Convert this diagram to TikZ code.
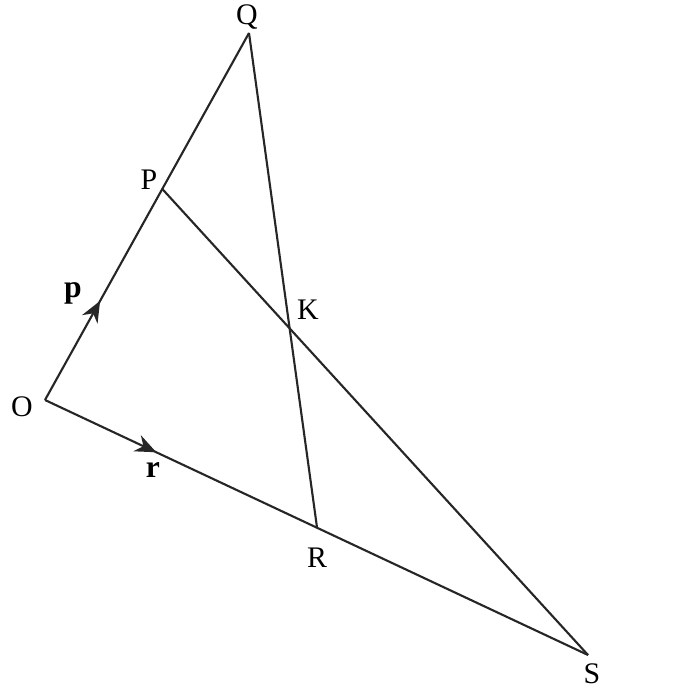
\documentclass[tikz,border=0pt]{standalone}
\usepackage{fontspec}
\setmainfont{Liberation Serif}
\usetikzlibrary{calc,arrows.meta,decorations.markings}

\tikzset{
  segment/.style={line width=1.2pt, color=black!85},
  midarrow/.style={postaction={decorate}, decoration={markings,
      mark=at position #1 with {\arrow{Stealth[length=12pt,width=10pt]}}}},
  vlabel/.style={font=\fontsize{17}{18}\selectfont, inner sep=0pt},
  veclabel/.style={font=\fontsize{18}{18}\selectfont\bfseries, inner sep=0pt}
}

\begin{document}
\begin{tikzpicture}[x=0.02cm, y=-0.02cm]
            % Marco
            \useasboundingbox[fill=white] (0,0) rectangle (686,688);

            % Vértices
            \coordinate (O) at (45,400);
            \coordinate (Q) at (249,33);
            \coordinate (P) at ($(O)!0.575!(Q)$);
            \coordinate (S) at (588,655);
            \coordinate (R) at ($(O)!0.501!(S)$);

            % Lados
            \draw[segment, midarrow=0.27] (O) -- (Q);
            \draw[segment, midarrow=0.205] (O) -- (S);
            \draw[segment] (P) -- (S);
            \draw[segment] (Q) -- (R);

            % Etiquetas
            \node[vlabel] (labQ) at (247,17) {Q};
            \node[vlabel] (labP) at (149,180) {P};
            \node[vlabel] (labO) at (22,407) {O};
            \node[vlabel] (labK) at (308,310) {K};
            \node[vlabel] (labR) at (317,558) {R};
            \node[vlabel] (labS) at (592,674) {S};
            \node[veclabel] (labp) at (73,293) {p};
            \node[veclabel] (labr) at (153,470) {r};
        \end{tikzpicture}
\end{document}
